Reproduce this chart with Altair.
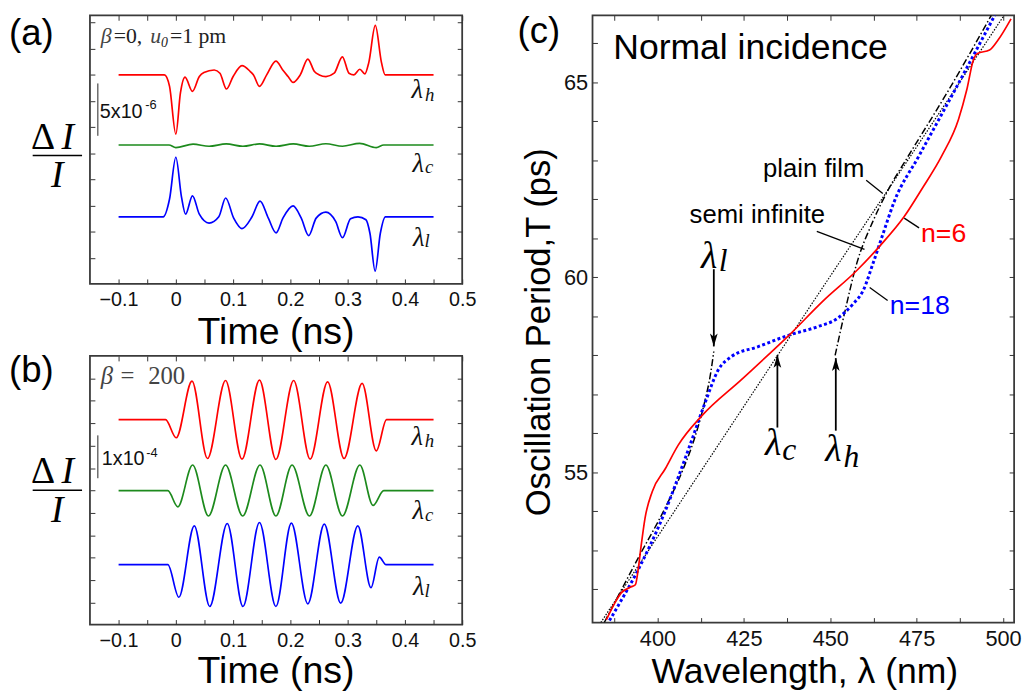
import altair as alt
import pandas as pd

SANS = "Liberation Sans"
SERIF = "Liberation Serif"
RED = "#ff0000"
GREEN = "#1d8a1d"
BLUE = "#0000ff"
INK = "#111111"
GREY = "#444444"

# ---------------- shared time axis of panels (a) and (b) ----------------
T_DOMAIN = [-0.15, 0.5]
T_TICKS = [-0.1, -0.05, 0.0, 0.05, 0.1, 0.15, 0.2, 0.25, 0.3, 0.35, 0.4, 0.45, 0.5]
SERIES = ["h", "c", "l"]

# ---------------- panel (a): beta = 0, u0 = 1 pm  (dI/I in units of 1e-6) ----------------
A_YDOM = [-20.0, 5.7]
A_YTICKS = [-17.5, -15.0, -12.5, -10.0, -7.5, -5.0, -2.5, 0.0, 2.5, 5.0]
A_OFFSET = [0.0, -6.71, -13.58]          # trace offsets of lambda_h, lambda_c, lambda_l

A_T_H = [-0.1, -0.02, -0.011, 0.0, 0.008, 0.016, 0.029, 0.041, 0.049, 0.067, 0.077, 0.0885,
         0.1, 0.1155, 0.13, 0.1356, 0.146, 0.1586, 0.1747, 0.1874, 0.196, 0.2046, 0.2172,
         0.2305, 0.242, 0.2506, 0.2621, 0.2765, 0.2908, 0.3023, 0.311, 0.3213, 0.33, 0.337,
         0.3483, 0.359, 0.3655, 0.45]
A_V_H = [0, 0, -1.1, -5.67, -1.73, -0.22, -1.58, -0.16, 0.22, 0.47, 0.16, -1.35,
         -0.16, 0.88, 0.32, 0, -1.1, 0, 1.32, 0.41, -0.16, -0.72, 0,
         1.51, 0.32, 0, -0.16, 0.16, 1.73, 0.16, 0, 0.54, 0.09, 1.2,
         4.73, 1.2, 0, 0]

A_T_C = [-0.1, -0.012, 0.0, 0.03, 0.058, 0.088, 0.117, 0.146, 0.175, 0.205, 0.233,
         0.262, 0.291, 0.321, 0.35, 0.363, 0.45]
A_V_C = [0, 0, -0.25, 0.08, -0.12, 0.1, -0.12, 0.1, -0.12, 0.1, -0.12,
         0.12, -0.12, 0.16, -0.25, 0, 0]

A_T_L = [-0.1, -0.022, -0.011, 0.0, 0.0098, 0.017, 0.029, 0.041, 0.058, 0.075, 0.087,
         0.101, 0.1155, 0.133, 0.147, 0.1615, 0.175, 0.187, 0.2046, 0.219, 0.232, 0.245,
         0.262, 0.279, 0.291, 0.305, 0.318, 0.332, 0.339, 0.348, 0.357, 0.366, 0.45]
A_V_L = [0, 0, 1.7, 5.7, 1.9, 0.25, 2.0, 0.25, -0.6, 0.0, 1.8,
         -0.13, -1.13, 0.0, 1.5, -0.13, -1.54, -0.13, 1.04, -0.13, -1.8, -0.13,
         0.44, -0.44, -2.0, -0.19, 0.0, -0.28, -1.6, -5.2, -1.6, 0, 0]

# ---------------- panel (b): beta = 200  (dI/I in units of 1e-4) ----------------
B_YDOM = [-3.13, 3.15]
B_YTICKS = [-2.62, -2.1, -1.57, -1.05, -0.52, 0.0, 0.52, 1.05, 1.57, 2.1, 2.62]
B_OFFSET = [1.66, 0.0, -1.73]

B_T_H = [-0.1, -0.018, 0.0006, 0.0282, 0.0552, 0.0868, 0.1155, 0.146, 0.1747, 0.2057,
         0.2345, 0.265, 0.2937, 0.3253, 0.35, 0.368, 0.45]
B_V_H = [0, 0, -0.423, 0.90, -0.908, 0.916, -0.924, 0.924, -0.931, 0.916,
         -0.924, 0.885, -0.908, 0.847, -0.731, 0, 0]

B_T_C = [-0.1, -0.014, 0.0034, 0.0293, 0.0569, 0.0868, 0.1167, 0.147, 0.1747, 0.2029,
         0.2333, 0.262, 0.2909, 0.3213, 0.3443, 0.363, 0.45]
B_V_C = [0, 0, -0.377, 0.60, -0.593, 0.60, -0.593, 0.60, -0.593, 0.60,
         -0.593, 0.60, -0.593, 0.60, -0.346, 0, 0]

B_T_L = [-0.1, -0.014, 0.0052, 0.0322, 0.0592, 0.0897, 0.1172, 0.146, 0.1747, 0.2017,
         0.2305, 0.2592, 0.2879, 0.3178, 0.3408, 0.3552, 0.367, 0.45]
B_V_L = [0, 0, -0.762, 0.908, -0.978, 0.962, -0.978, 0.985, -0.978, 0.970,
         -0.916, 0.947, -0.901, 0.908, -0.539, 0.177, 0, 0]

# ---------------- panel (c): oscillation period vs wavelength ----------------
C_XDOM = [381.2, 503.2]
C_YDOM = [51.15, 66.72]
C_XTICKS = [387.5, 400, 412.5, 425, 437.5, 450, 462.5, 475, 487.5, 500]
C_YTICKS = [52, 53, 54, 55, 56, 57, 58, 59, 60, 61, 62, 63, 64, 65, 66]

C_PLAIN_L = [383.6, 418.1, 446.6, 473.3, 500.3]
C_PLAIN_T = [51.15, 55.77, 59.58, 63.12, 66.72]

C_SEMI_LO_L = [384.6, 395.0, 402.0, 407.5, 411.0, 413.5, 415.3, 416.3]
C_SEMI_LO_T = [51.15, 52.9, 54.05, 55.1, 55.95, 56.75, 57.5, 58.1]
C_SEMI_HI_L = [451.4, 454.3, 457.6, 462.3, 467.1, 472.5, 484.3, 496.6]
C_SEMI_HI_T = [58.0, 59.15, 60.34, 61.43, 62.3, 63.1, 64.81, 66.72]

C_N18_L = [386.1, 389.0, 393.8, 401.4, 409.0, 413.8, 417.6, 421.4, 429.0, 438.1,
           446.1, 451.9, 456.6, 459.5, 462.3, 465.2, 468.5, 475.7, 486.1, 497.6]
C_N18_T = [51.2, 51.64, 52.4, 53.83, 55.6, 56.79, 57.63, 57.97, 58.22, 58.52,
           58.73, 58.94, 59.32, 59.66, 60.34, 61.1, 61.94, 63.12, 64.81, 66.72]

C_N6_L = [385.2, 387.6, 389.5, 392.3, 393.6, 394.5, 395.2, 396.4, 398.5, 402.3, 406.0,
          412.8, 424.3, 438.1, 448.1, 457.6, 464.7, 471.4, 476.6, 482.3, 487.1, 489.5,
          491.4, 492.6, 496.1, 498.5, 502.3]
C_N6_T = [51.22, 51.64, 51.91, 52.06, 52.12, 52.57, 53.07, 53.83, 54.51, 55.1, 55.7,
          56.45, 57.38, 58.52, 59.41, 60.17, 60.84, 61.56, 62.28, 63.12, 64.05, 64.81,
          65.57, 65.74, 65.83, 66.08, 66.63]

# leader lines of the curve labels: (x1, y1, x2, y2)
C_LEADERS = [(460.4, 62.49, 465.2, 62.15),   # plain film
             (446.1, 61.18, 459.9, 60.72),   # semi infinite
             (471.4, 61.52, 475.7, 61.27),   # n=6
             (461.4, 59.74, 466.6, 59.41)]   # n=18
# arrows: (wavelength, tail period, tip period)
C_ARROWS_DOWN = [(416.3, 60.21, 58.23)]
C_ARROWS_UP = [(434.7, 56.15, 58.01), (451.6, 56.07, 57.93)]

ONE = pd.DataFrame({"k": [0]})


def qx(field, dom, ax=None):
    return alt.X(field, type="quantitative", scale=alt.Scale(domain=dom, nice=False, zero=False), axis=ax)


def qy(field, dom, ax=None):
    return alt.Y(field, type="quantitative", scale=alt.Scale(domain=dom, nice=False, zero=False), axis=ax)


def tick_axis(orient, values, labels=False, expr=None, size=20, pad=6):
    kw = dict(orient=orient, values=values, domain=False, grid=False, ticks=True, tickSize=5,
              tickWidth=1, tickColor="#333333", offset=-5, title="", labels=labels)
    if labels:
        kw.update(labelFont=SANS, labelFontSize=size, labelColor=INK, labelPadding=pad,
                  labelFlush=False, labelOverlap=False)
        if expr:
            kw["labelExpr"] = expr
    return alt.Axis(**kw)


def dtext(rows, xdom, ydom, **mk):
    df = pd.DataFrame(rows, columns=["x", "y", "label"])
    return alt.Chart(df).mark_text(**mk).encode(x=qx("x", xdom), y=qy("y", ydom), text="label:N")


def ptext(label, px, py, **mk):
    return alt.Chart(ONE).mark_text(text=label, **mk).encode(x=alt.value(px), y=alt.value(py))


def prule(x1, x2, y):
    return alt.Chart(ONE).mark_rule(color="black", strokeWidth=1.5).encode(
        x=alt.value(x1), x2=alt.value(x2), y=alt.value(y))


def wave_df(ts, vs, offsets):
    rows = []
    for key, tt, vv, off in zip(SERIES, ts, vs, offsets):
        for t, v in zip(tt, vv):
            rows.append({"t": t, "v": v + off, "s": key})
    return pd.DataFrame(rows)


T_EXPR = "abs(datum.value * 10 - round(datum.value * 10)) < 0.001 ? format(datum.value, '.1~f') : ''"


def wave_panel(df, ydom, yticks, letter, letter_y, frac_y, title_y, lam_rows, sub_rows,
               lam_size, sub_size, bar, bar_txt, bar_sup, beta_layers):
    color = alt.Color("s:N", scale=alt.Scale(domain=SERIES, range=[RED, GREEN, BLUE]), legend=None)
    lines = alt.Chart(df).mark_line(interpolate="monotone", strokeWidth=1.7).encode(
        x=qx("t", T_DOMAIN, tick_axis("bottom", T_TICKS, True, T_EXPR, 20, 6)),
        y=qy("v", ydom, tick_axis("left", yticks)),
        color=color)
    ghost = alt.Chart(df).mark_line(opacity=0).encode(
        x=qx("t", T_DOMAIN, tick_axis("top", T_TICKS)),
        y=qy("v", ydom, tick_axis("right", yticks)),
        detail="s:N")
    bar_df = pd.DataFrame({"x": [bar[0]], "y1": [bar[1]], "y2": [bar[2]]})
    scalebar = alt.Chart(bar_df).mark_rule(color="#222222", strokeWidth=1).encode(
        x=qx("x", T_DOMAIN), y=qy("y1", ydom), y2="y2:Q")
    layers = [lines, ghost, scalebar,
              dtext([bar_txt], T_DOMAIN, ydom, font=SANS, fontSize=20, align="left",
                    baseline="alphabetic", color=INK),
              dtext([bar_sup], T_DOMAIN, ydom, font=SANS, fontSize=13, align="left",
                    baseline="alphabetic", color=INK),
              dtext(lam_rows, T_DOMAIN, ydom, font=SERIF, fontSize=lam_size, fontStyle="italic",
                    align="center", baseline="alphabetic", color=INK),
              dtext(sub_rows, T_DOMAIN, ydom, font=SERIF, fontSize=sub_size, fontStyle="italic",
                    align="center", baseline="alphabetic", color=INK),
              ptext(letter, -82, letter_y, font=SANS, fontSize=37, align="left", baseline="top", color="black"),
              ptext("\u0394", -47.5, frac_y, font=SERIF, fontSize=38, align="center",
                    baseline="alphabetic", color="black"),
              ptext("I", -22.5, frac_y, font=SERIF, fontSize=38, fontStyle="italic", align="center",
                    baseline="alphabetic", color="black"),
              prule(-58, -8, frac_y + 7),
              ptext("I", -33, frac_y + 39, font=SERIF, fontSize=38, fontStyle="italic", align="center",
                    baseline="alphabetic", color="black"),
              ptext("Time (ns)", 188.5, title_y, font=SANS, fontSize=38, align="center",
                    baseline="alphabetic", color="black")]
    layers += beta_layers
    return alt.layer(*layers).resolve_axis(x="independent", y="independent").properties(width=377, height=272)


# ---- panel (a) ----
dfA = wave_df([A_T_H, A_T_C, A_T_L], [A_V_H, A_V_C, A_V_L], A_OFFSET)
beta_a = [
    dtext([(-0.131, 3.05, "\u03b2"), (-0.0448, 3.05, "u")], T_DOMAIN, A_YDOM, font=SERIF, fontSize=22,
          fontStyle="italic", align="left", baseline="alphabetic", color=GREY),
    dtext([(-0.1086, 3.05, "=0,"), (-0.0103, 3.05, "=1 pm")], T_DOMAIN, A_YDOM, font=SERIF, fontSize=22,
          align="left", baseline="alphabetic", color="#222222"),
    dtext([(-0.0259, 2.67, "0")], T_DOMAIN, A_YDOM, font=SERIF, fontSize=14, fontStyle="italic",
          align="left", baseline="alphabetic", color="#222222"),
]
panel_a = wave_panel(
    dfA, A_YDOM, A_YTICKS, "(a)", 1, 135, 333,
    [(0.4216, -2.24, "\u03bb"), (0.4233, -9.33, "\u03bb"), (0.424, -16.4, "\u03bb")],
    [(0.4431, -2.52, "h"), (0.4422, -9.42, "c"), (0.4388, -16.5, "l")],
    27, 19,
    (-0.1362, -0.82, -5.83), (-0.1328, -4.13, "5x10"), (-0.0534, -3.28, "-6"),
    beta_a)

# ---- panel (b) ----
dfB = wave_df([B_T_H, B_T_C, B_T_L], [B_V_H, B_V_C, B_V_L], B_OFFSET)
beta_b = [
    dtext([(-0.131, 2.485, "\u03b2")], T_DOMAIN, B_YDOM, font=SERIF, fontSize=25, fontStyle="italic",
          align="left", baseline="alphabetic", color=GREY),
    dtext([(-0.0966, 2.485, "="), (-0.0483, 2.485, "200")], T_DOMAIN, B_YDOM, font=SERIF, fontSize=25,
          align="left", baseline="alphabetic", color=GREY),
]
panel_b = wave_panel(
    dfB, B_YDOM, B_YTICKS, "(b)", -3, 129, 331.5,
    [(0.4216, 1.062, "\u03bb"), (0.4233, -0.67, "\u03bb"), (0.424, -2.44, "\u03bb")],
    [(0.443, 1.023, "h"), (0.4422, -0.709, "c"), (0.4388, -2.48, "l")],
    27, 19,
    (-0.1362, 1.293, 0.291), (-0.1293, 0.607, "1x10"), (-0.0517, 0.792, "-4"),
    beta_b)

# ---- panel (c) ----
df_plain = pd.DataFrame({"l": C_PLAIN_L, "T": C_PLAIN_T})
df_semi = pd.concat([
    pd.DataFrame({"l": C_SEMI_LO_L, "T": C_SEMI_LO_T, "b": "low"}),
    pd.DataFrame({"l": C_SEMI_HI_L, "T": C_SEMI_HI_T, "b": "high"})])
df_n18 = pd.DataFrame({"l": C_N18_L, "T": C_N18_T})
df_n6 = pd.DataFrame({"l": C_N6_L, "T": C_N6_T})
df_lead = pd.DataFrame(C_LEADERS, columns=["x1", "y1", "x2", "y2"])
df_down = pd.DataFrame(C_ARROWS_DOWN, columns=["x", "y1", "y2"])
df_up = pd.DataFrame(C_ARROWS_UP, columns=["x", "y1", "y2"])

C_XEXPR = "datum.value % 25 === 0 ? datum.label : ''"
C_YEXPR = "datum.value % 5 === 0 ? datum.label : ''"

plain = alt.Chart(df_plain).mark_line(color="black", strokeWidth=1.2, strokeDash=[1.5, 1.5],
                                      interpolate="monotone", clip=True).encode(
    x=qx("l", C_XDOM, tick_axis("bottom", C_XTICKS, True, C_XEXPR, 22, 6)),
    y=qy("T", C_YDOM, tick_axis("left", C_YTICKS, True, C_YEXPR, 22, 5)))
ghost_c = alt.Chart(df_plain).mark_line(opacity=0).encode(
    x=qx("l", C_XDOM, tick_axis("top", C_XTICKS)),
    y=qy("T", C_YDOM, tick_axis("right", C_YTICKS)))
semi = alt.Chart(df_semi).mark_line(color="black", strokeWidth=1.5, strokeDash=[7, 2.5, 1.5, 2.5],
                                    interpolate="monotone", clip=True).encode(
    x=qx("l", C_XDOM), y=qy("T", C_YDOM), detail="b:N")
n18 = alt.Chart(df_n18).mark_line(color=BLUE, strokeWidth=3, strokeDash=[3, 2.5],
                                  interpolate="monotone", clip=True).encode(
    x=qx("l", C_XDOM), y=qy("T", C_YDOM))
n6 = alt.Chart(df_n6).mark_line(color=RED, strokeWidth=1.7, interpolate="monotone", clip=True).encode(
    x=qx("l", C_XDOM), y=qy("T", C_YDOM))
leaders = alt.Chart(df_lead).mark_rule(color="black", strokeWidth=1.3).encode(
    x=qx("x1", C_XDOM), x2="x2:Q", y=qy("y1", C_YDOM), y2="y2:Q")
shafts = alt.Chart(pd.concat([df_down, df_up])).mark_rule(color="black", strokeWidth=1.8).encode(
    x=qx("x", C_XDOM), y=qy("y1", C_YDOM), y2="y2:Q")
head_down = alt.Chart(df_down).mark_point(shape="M0,0 L-0.3,-1 L0,-0.75 L0.3,-1 Z", size=676,
                                          filled=True, color="black", opacity=1).encode(
    x=qx("x", C_XDOM), y=qy("y2", C_YDOM))
head_up = alt.Chart(df_up).mark_point(shape="M0,0 L-0.3,1 L0,0.75 L0.3,1 Z", size=676,
                                      filled=True, color="black", opacity=1).encode(
    x=qx("x", C_XDOM), y=qy("y2", C_YDOM))

c_layers = [
    plain, ghost_c, semi, n18, n6, leaders, shafts, head_down, head_up,
    dtext([(387.2, 65.61, "Normal incidence")], C_XDOM, C_YDOM, font=SANS, fontSize=36,
          align="left", baseline="alphabetic", color="black"),
    dtext([(445.2, 62.57, "plain film"), (428.9, 61.39, "semi infinite")], C_XDOM, C_YDOM,
          font=SANS, fontSize=26, align="center", baseline="alphabetic", color="black"),
    dtext([(482.8, 60.91, "n=6")], C_XDOM, C_YDOM, font=SANS, fontSize=27, align="center",
          baseline="alphabetic", color=RED),
    dtext([(475.9, 59.05, "n=18")], C_XDOM, C_YDOM, font=SANS, fontSize=27, align="center",
          baseline="alphabetic", color=BLUE),
    dtext([(414.97, 60.25, "\u03bb"), (433.5, 55.44, "\u03bb"), (450.9, 55.29, "\u03bb")], C_XDOM, C_YDOM,
          font=SERIF, fontSize=38, fontStyle="italic", align="center", baseline="alphabetic", color="black"),
    dtext([(419.0, 60.17, "l"), (438.1, 55.31, "c"), (456.1, 55.14, "h")], C_XDOM, C_YDOM,
          font=SERIF, fontSize=32, fontStyle="italic", align="center", baseline="alphabetic", color="black"),
    ptext("(c)", -76, -1, font=SANS, fontSize=37, align="left", baseline="top", color="black"),
    ptext("Oscillation Period,T (ps)", -43, 321, font=SANS, fontSize=35, angle=270, align="center",
          baseline="alphabetic", color="black"),
    ptext("Wavelength, \u03bb (nm)", 215, 676, font=SANS, fontSize=36, align="center",
          baseline="alphabetic", color="black"),
]
panel_c = alt.layer(*c_layers).resolve_axis(x="independent", y="independent").properties(width=427, height=615)

left = alt.vconcat(panel_a, panel_b, spacing=73, bounds="flush")
chart = alt.hconcat(left, panel_c, spacing=40).properties(padding=0).configure_view(
    stroke="#3a3a3a", strokeWidth=1.8)

chart.save("out.html", embed_options={"renderer": "svg", "actions": False})
